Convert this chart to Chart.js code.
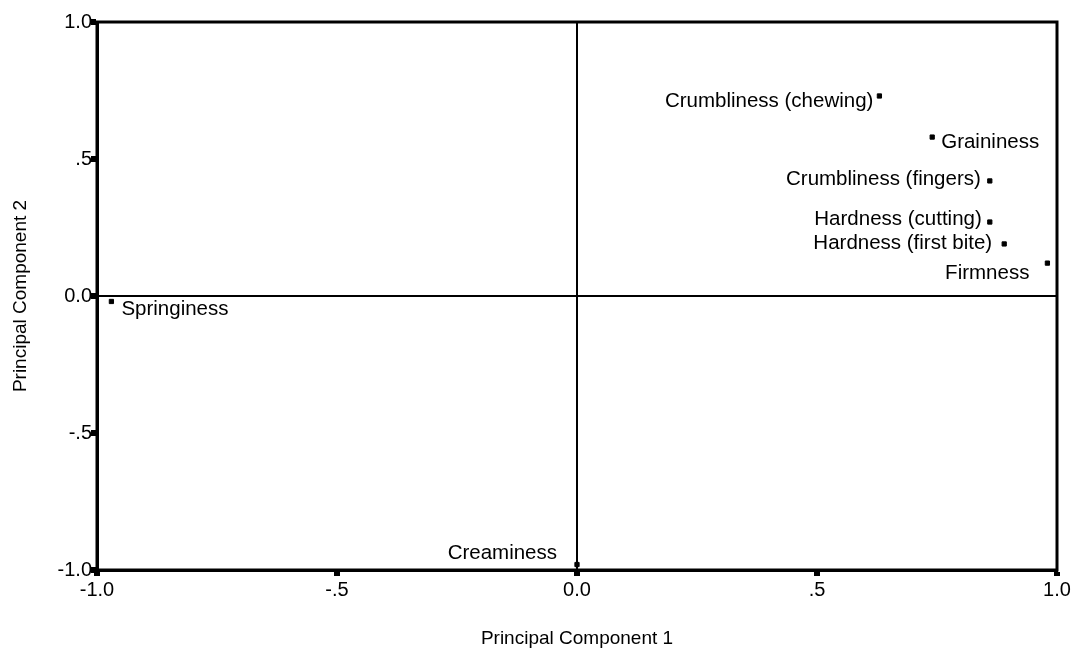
<!DOCTYPE html>
<html>
<head>
<meta charset="utf-8">
<script src="https://cdn.jsdelivr.net/npm/chart.js@4"></script>
<style>
  html, body { margin: 0; padding: 0; background: #fff; }
  #wrap { width: 1079px; height: 658px; }
</style>
</head>
<body>
<div id="wrap"><canvas id="pca"></canvas></div>
<script>
// loadings
const attributes = ['Crumbliness (chewing)', 'Graininess', 'Crumbliness (fingers)', 'Hardness (cutting)',
                    'Hardness (first bite)', 'Firmness', 'Springiness', 'Creaminess'];
const pc1 = [0.63, 0.74, 0.86, 0.86, 0.89, 0.98, -0.97, 0.0];
const pc2 = [0.73, 0.58, 0.42, 0.27, 0.19, 0.12, -0.02, -0.98];
const tickLabels = ['-1.0', '-.5', '0.0', '.5', '1.0'];

// where each name sits next to its dot: [dx, dy, align]
const labelPlace = [
    [-6, 5, 'right'],
    [9, 5, 'left'],
    [-9, -2, 'right'],
    [-8, -3, 'right'],
    [-12, -1, 'right'],
    [-18, 10, 'right'],
    [10, 8, 'left'],
    [-20, -11, 'right']
];

const FONT = '"Liberation Sans", Arial, Helvetica, sans-serif';

const pointNames = {
    id: 'pointNames',
    afterDatasetsDraw(chart) {
        const ctx = chart.ctx;
        const meta = chart.getDatasetMeta(0);
        ctx.save();
        ctx.font = '20.5px ' + FONT;
        ctx.fillStyle = '#000';
        ctx.textBaseline = 'middle';
        meta.data.forEach((pt, i) => {
            const p = labelPlace[i];
            ctx.textAlign = p[2];
            ctx.fillText(attributes[i], pt.x + p[0], pt.y + p[1]);
        });
        ctx.restore();
    }
};

const frame = {
    id: 'frame',
    beforeDatasetsDraw(chart) {
        const a = chart.chartArea;
        const ctx = chart.ctx;
        ctx.save();
        ctx.strokeStyle = '#000';
        ctx.lineWidth = 3;
        ctx.strokeRect(a.left, a.top, a.right - a.left, a.bottom - a.top);
        ctx.restore();
    }
};

const gridOpts = {
    color: c => (c.tick && c.tick.value === 0) ? '#000' : 'rgba(0,0,0,0)',
    lineWidth: 2,
    tickColor: '#000',
    tickWidth: 6,
    tickLength: 6
};

new Chart(document.getElementById('pca'), {
    type: 'scatter',
    data: {
        datasets: [{
            data: pc1.map((x, i) => ({ x: x, y: pc2[i] })),
            backgroundColor: '#000',
            borderColor: '#000',
            pointStyle: 'rect',
            pointRadius: 3,
            pointHoverRadius: 3
        }]
    },
    options: {
        responsive: true,
        maintainAspectRatio: false,
        animation: false,
        layout: { padding: { top: 22, right: 22, left: 0, bottom: 0 } },
        plugins: {
            legend: { display: false },
            tooltip: { enabled: false }
        },
        scales: {
            x: {
                min: -1, max: 1,
                ticks: {
                    stepSize: 0.5,
                    color: '#000',
                    padding: 2,
                    font: { family: FONT, size: 20 },
                    callback: (v, i) => tickLabels[i]
                },
                grid: gridOpts,
                border: { display: true, color: '#000', width: 3 },
                title: {
                    display: true,
                    text: 'Principal Component 1',
                    color: '#000',
                    font: { family: FONT, size: 19 },
                    padding: { bottom: 8 }
                },
                afterFit: s => { s.height = 88; }
            },
            y: {
                min: -1, max: 1,
                ticks: {
                    stepSize: 0.5,
                    color: '#000',
                    padding: -1,
                    font: { family: FONT, size: 20 },
                    callback: (v, i) => tickLabels[i]
                },
                grid: gridOpts,
                border: { display: true, color: '#000', width: 3 },
                title: {
                    display: true,
                    text: 'Principal Component 2',
                    color: '#000',
                    font: { family: FONT, size: 19 },
                    padding: { top: 9 }
                },
                afterFit: s => { s.width = 97; }
            }
        }
    },
    plugins: [frame, pointNames]
});
</script>
</body>
</html>
